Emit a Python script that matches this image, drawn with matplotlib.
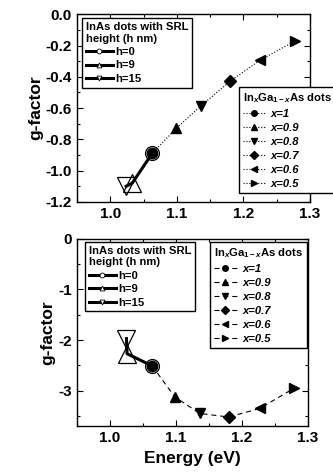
# ===================
# Part 1: Importing Libraries
# ===================
import matplotlib
matplotlib.use("Agg")
import matplotlib.pyplot as plt
from matplotlib.ticker import MultipleLocator, FormatStrFormatter

plt.rcParams["font.family"] = "Liberation Sans"
plt.rcParams["font.weight"] = "bold"
plt.rcParams["axes.unicode_minus"] = False
plt.rcParams["mathtext.fontset"] = "custom"
plt.rcParams["mathtext.it"] = "Liberation Sans:italic:bold"
plt.rcParams["mathtext.rm"] = "Liberation Sans:bold"

# ===================
# Part 2: Data Preparation
# ===================
comp_labels = ["x=1", "x=0.9", "x=0.8", "x=0.7", "x=0.6", "x=0.5"]
comp_markers = ["o", "^", "v", "D", "<", ">"]

# In(x)Ga(1-x)As dots, top panel
ingaas_e_top = [1.063, 1.099, 1.136, 1.180, 1.225, 1.278]
ingaas_g_top = [-0.89, -0.73, -0.587, -0.428, -0.294, -0.17]
# In(x)Ga(1-x)As dots, bottom panel
ingaas_e_bot = [1.064, 1.098, 1.136, 1.180, 1.227, 1.279]
ingaas_g_bot = [-2.51, -3.12, -3.45, -3.52, -3.35, -2.95]

srl_labels = ["h=0", "h=9", "h=15"]
srl_markers = ["o", "^", "v"]
srl_e_top = [1.063, 1.033, 1.024]
srl_g_top = [-0.89, -1.08, -1.10]
srl_e_bot = [1.064, 1.026, 1.025]
srl_g_bot = [-2.51, -2.27, -1.97]

xlabel = "Energy (eV)"
ylabel = "g-factor"
srl_title = "InAs dots with SRL\nheight (h nm)"
ingaas_title = r"In$_{x}$Ga$_{1-x}$As dots"

# ===================
# Part 3: Plot Configuration and Rendering
# ===================
fig = plt.figure(figsize=(3.33, 4.74), dpi=100)
ax_top = fig.add_axes([0.231, 0.574, 0.700, 0.396])
ax_bot = fig.add_axes([0.231, 0.101, 0.694, 0.395])

panels = [
    (ax_top, ingaas_e_top, ingaas_g_top, srl_e_top, srl_g_top, ":"),
    (ax_bot, ingaas_e_bot, ingaas_g_bot, srl_e_bot, srl_g_bot, (0, (4.5, 3.5))),
]

leg_font = 8.1

for ax, ie, ig, se, sg, ls in panels:
    # connecting lines
    ax.plot(ie, ig, linestyle=ls, color="black", linewidth=0.8, zorder=2)
    ax.plot(se, sg, linestyle="-", color="black", linewidth=2.2, zorder=2)

    # InGaAs markers (filled), with legend handles
    ingaas_handles = []
    for e, g, m, lab in zip(ie, ig, comp_markers, comp_labels):
        ms = 6.5 if m == "D" else 7.5
        ax.plot(e, g, marker=m, color="black", markersize=ms, linestyle="none", zorder=3)
        h, = ax.plot([], [], marker=m, color="black", markersize=4,
                     linestyle=ls, linewidth=0.8, label=lab)
        ingaas_handles.append(h)

    # SRL markers (open)
    srl_handles = []
    for e, g, m, lab in zip(se, sg, srl_markers, srl_labels):
        ms = 10 if m == "o" else 13
        ax.plot(e, g, marker=m, markerfacecolor="none", markeredgecolor="black",
                markeredgewidth=0.9, markersize=ms, linestyle="none", zorder=4)
        h, = ax.plot([], [], marker=m, markerfacecolor="white", markeredgecolor="black",
                     markeredgewidth=0.6, markersize=3.5, linestyle="-",
                     color="black", linewidth=2.2, label=lab)
        srl_handles.append(h)

    ax.set_xlim(0.95, 1.3)
    ax.xaxis.set_major_locator(MultipleLocator(0.1))
    ax.xaxis.set_minor_locator(MultipleLocator(0.05))
    ax.xaxis.set_major_formatter(FormatStrFormatter("%.1f"))
    ax.tick_params(which="both", direction="in", top=True, right=True,
                   labelsize=11, width=0.8)
    ax.tick_params(which="major", length=4)
    ax.tick_params(which="minor", length=2.5)
    for sp in ax.spines.values():
        sp.set_linewidth(1.0)
    ax.set_ylabel(ylabel, fontsize=12.5, fontweight="bold", labelpad=2)

    if ax is ax_top:
        leg1_anchor = (0.021, 0.979)
        leg2_loc, leg2_anchor = "upper left", (0.695, 0.612)
    else:
        leg1_anchor = (0.035, 0.984)
        leg2_loc, leg2_anchor = "upper right", (0.997, 0.984)

    leg1 = ax.legend(handles=srl_handles, title=srl_title, loc="upper left",
                     bbox_to_anchor=leg1_anchor, frameon=True, fancybox=False,
                     edgecolor="black", framealpha=1, borderpad=0.35,
                     labelspacing=0.3, handlelength=2.4, handletextpad=0.2,
                     borderaxespad=0, alignment="left",
                     prop={"size": leg_font, "weight": "bold"},
                     title_fontproperties={"size": leg_font, "weight": "bold"})
    leg1.get_frame().set_linewidth(1.0)
    ax.add_artist(leg1)

    leg2 = ax.legend(handles=ingaas_handles, title=ingaas_title, loc=leg2_loc,
                     bbox_to_anchor=leg2_anchor, frameon=True, fancybox=False,
                     edgecolor="black", framealpha=1, borderpad=0.35,
                     labelspacing=0.36, handlelength=2.0, handletextpad=0.5,
                     borderaxespad=0, alignment="left",
                     prop={"size": leg_font, "weight": "bold", "style": "italic"},
                     title_fontproperties={"size": leg_font, "weight": "bold"})
    leg2.get_frame().set_linewidth(1.0)
    leg2.set_clip_on(False)

ax_top.set_ylim(-1.2, 0.0)
ax_top.yaxis.set_major_locator(MultipleLocator(0.2))
ax_top.yaxis.set_minor_locator(MultipleLocator(0.1))
ax_top.yaxis.set_major_formatter(FormatStrFormatter("%.1f"))

ax_bot.set_ylim(-3.7, 0.0)
ax_bot.yaxis.set_major_locator(MultipleLocator(1))
ax_bot.yaxis.set_minor_locator(MultipleLocator(0.5))
ax_bot.yaxis.set_major_formatter(FormatStrFormatter("%d"))
ax_bot.set_xlabel(xlabel, fontsize=12.5, fontweight="bold", labelpad=4)

# ===================
# Part 4: Saving Output
# ===================
fig.savefig("out.png", dpi=100)
